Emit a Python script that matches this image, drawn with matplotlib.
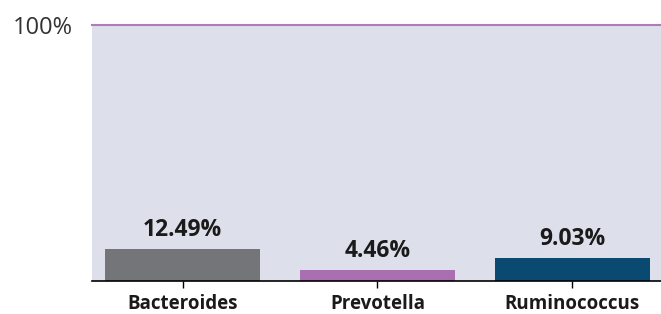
import matplotlib
matplotlib.use("Agg")
import matplotlib.pyplot as plt

genera = ["Bacteroides", "Prevotella", "Ruminococcus"]
shares = [12.49, 4.46, 9.03]
bar_colors = ["#747578", "#a96fb1", "#0a4a71"]

plt.rcParams['font.family'] = ['Open Sans', 'DejaVu Sans']

fig = plt.figure(figsize=(6.61, 3.14), dpi=100)
ax = fig.add_axes([0.139, 0.105, 0.861, 0.815])
ax.set_facecolor("#dde0ea")

x = list(range(len(genera)))
bars = ax.bar(x, shares, width=0.795, color=bar_colors, zorder=2)

for b, v in zip(bars, shares):
    ax.annotate(f"{v:.2f}%", (b.get_x() + b.get_width() / 2, v),
                xytext=(0, 5), textcoords="offset points",
                ha="center", va="bottom", fontsize=16.5, fontweight="bold",
                color="#1a1a1a")

ax.set_xlim(-0.465, 2.455)
ax.set_ylim(0, 100)

ax.set_xticks(x)
ax.set_xticklabels(genera, fontsize=13.5, fontweight="bold", color="#1a1a1a")
ax.tick_params(axis="x", length=5, width=1, color="black", pad=4)

ax.set_yticks([100])
ax.set_yticklabels(["100%"], fontsize=17, color="#333333")
ax.tick_params(axis="y", length=0, pad=14)

ax.spines["left"].set_visible(False)
ax.spines["right"].set_visible(False)
ax.spines["top"].set_color("#b27ab9")
ax.spines["top"].set_linewidth(1.5)
ax.spines["bottom"].set_color("black")
ax.spines["bottom"].set_linewidth(1.2)

plt.savefig("out.png", dpi=100)
